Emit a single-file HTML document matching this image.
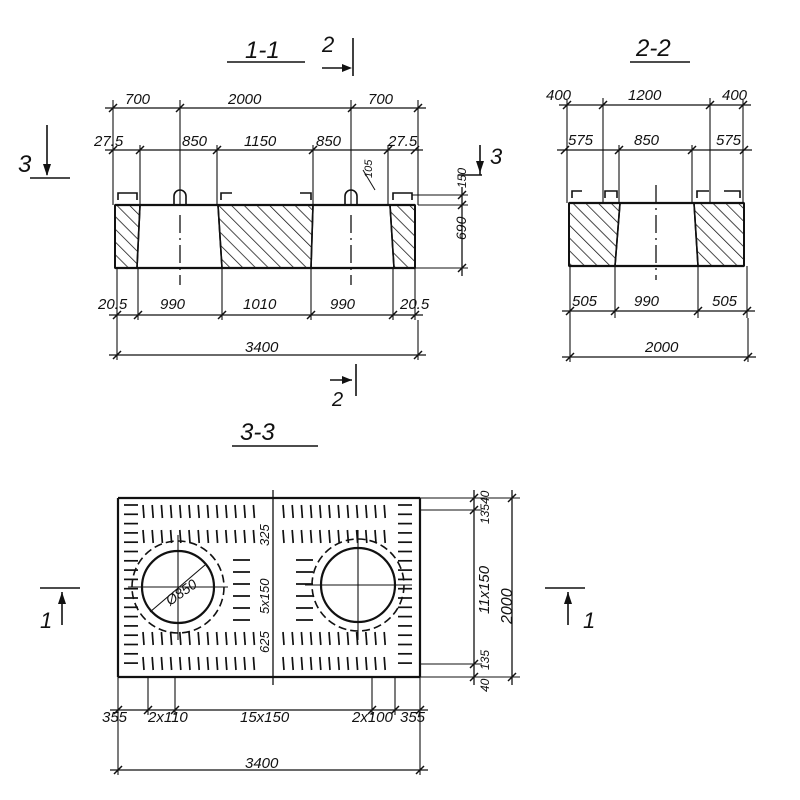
<!DOCTYPE html>
<html><head><meta charset="utf-8"><style>
html,body{margin:0;padding:0;background:#fff;}
svg{display:block;}
text{font-family:"Liberation Sans",sans-serif;font-style:italic;font-size:17px;fill:#111;}
.s{font-size:15px;}
</style></head><body>
<svg id="g" width="800" height="800" viewBox="0 0 800 800" stroke="#111" stroke-width="1.6" fill="none">
<defs>
<pattern id="h" width="9" height="9" patternUnits="userSpaceOnUse" patternTransform="rotate(-45)">
<line x1="0" y1="0" x2="0" y2="9" stroke="#111" stroke-width="1.5"/>
</pattern>
</defs>
<g stroke="none">
<text x="245" y="58" style="font-size:24px">1-1</text>
<text x="322" y="52" style="font-size:22px">2</text>
<text x="332" y="406" style="font-size:20px">2</text>
<text x="18" y="172" style="font-size:24px">3</text>
<text x="490" y="164" style="font-size:22px">3</text>
<text x="636" y="56" style="font-size:24px">2-2</text>
<text x="240" y="440" style="font-size:24px">3-3</text>
<text x="40" y="628" style="font-size:22px">1</text>
<text x="583" y="628" style="font-size:22px">1</text>
<text x="125" y="104" class="s">700</text>
<text x="228" y="104" class="s">2000</text>
<text x="368" y="104" class="s">700</text>
<text x="94" y="146" class="s">27.5</text>
<text x="182" y="146" class="s">850</text>
<text x="244" y="146" class="s">1150</text>
<text x="316" y="146" class="s">850</text>
<text x="388" y="146" class="s">27.5</text>
<text x="98" y="309" class="s">20.5</text>
<text x="160" y="309" class="s">990</text>
<text x="243" y="309" class="s">1010</text>
<text x="330" y="309" class="s">990</text>
<text x="400" y="309" class="s">20.5</text>
<text x="245" y="352" class="s">3400</text>
<text x="546" y="100" class="s">400</text>
<text x="628" y="100" class="s">1200</text>
<text x="722" y="100" class="s">400</text>
<text x="568" y="145" class="s">575</text>
<text x="634" y="145" class="s">850</text>
<text x="716" y="145" class="s">575</text>
<text x="572" y="306" class="s">505</text>
<text x="634" y="306" class="s">990</text>
<text x="712" y="306" class="s">505</text>
<text x="645" y="352" class="s">2000</text>
<text x="102" y="722" class="s">355</text>
<text x="148" y="722" class="s">2x110</text>
<text x="240" y="722" class="s">15x150</text>
<text x="352" y="722" class="s">2x100</text>
<text x="400" y="722" class="s">355</text>
<text x="245" y="768" class="s">3400</text>
<text transform="translate(466,240) rotate(-90)" style="font-size:14px">690</text>
<text transform="translate(466,188) rotate(-90)" style="font-size:12px">150</text>
<text transform="translate(372,178) rotate(-90)" style="font-size:11px">105</text>
<text transform="translate(512,624) rotate(-90)" style="font-size:16px">2000</text>
<text transform="translate(489,614) rotate(-90)" style="font-size:15px">11x150</text>
<text transform="translate(489,524) rotate(-90)" style="font-size:12px">135</text>
<text transform="translate(489,504) rotate(-90)" style="font-size:12px">40</text>
<text transform="translate(489,670) rotate(-90)" style="font-size:12px">135</text>
<text transform="translate(489,692) rotate(-90)" style="font-size:12px">40</text>
<text transform="translate(269,546) rotate(-90)" style="font-size:13px">325</text>
<text transform="translate(269,614) rotate(-90)" style="font-size:13px">5x150</text>
<text transform="translate(269,653) rotate(-90)" style="font-size:13px">625</text>
<text transform="translate(170,606) rotate(-35)" style="font-size:14px">Ø850</text>
</g>
<g id="d"></g>
</svg>
<script>
var d=document.getElementById('d'),o='';
function L(a,b,c,e,w){o+='<line x1="'+a+'" y1="'+b+'" x2="'+c+'" y2="'+e+'"'+(w?' stroke-width="'+w+'"':'')+'/>';}
function T(x,y){L(x-4,y+4,x+4,y-4,1.5);}
function P(p){o+='<polygon points="'+p+'" fill="#111" stroke="none"/>';}
function dimH(y,xs){L(xs[0]-8,y,xs[xs.length-1]+8,y,1.3);xs.forEach(function(x){T(x,y);});}
function dimV(x,ys){L(x,ys[0]-8,x,ys[ys.length-1]+8,1.3);ys.forEach(function(y){T(x,y);});}
// Section 1-1
L(227,62,305,62);L(322,68,348,68);L(353,38,353,76);P('352,68 342,64 342,72');
L(330,380,352,380);L(356,364,356,396);P('352,380 342,376 342,384');
L(47,125,47,175);L(30,178,70,178);P('47,176 43,164 51,164');
L(480,145,480,175);L(458,175,482,175);P('480,173 476,161 484,161');
o+='<polygon points="115,205 140,205 137,268 115,268" fill="url(#h)"/>';
o+='<polygon points="218,205 313,205 311,268 222,268" fill="url(#h)"/>';
o+='<polygon points="390,205 415,205 415,268 394,268" fill="url(#h)"/>';
L(115,205,415,205,2.2);L(115,268,415,268,2.2);L(115,205,115,268,2);L(415,205,415,268,2);
L(140,205,137,268);L(218,205,222,268);L(313,205,311,268);L(390,205,394,268);
o+='<path d="M174,205 V196 a6,6 0 0 1 12,0 V205"/><path d="M345,205 V196 a6,6 0 0 1 12,0 V205"/>';
o+='<path d="M118,200 V193 H137 V200"/><path d="M221,200 V193 H232"/><path d="M300,193 H311 V200"/><path d="M393,200 V193 H412 V200"/>';
L(180,100,180,205,1.1);L(351,100,351,205,1.1);
o+='<line x1="180" y1="215" x2="180" y2="285" stroke-width="1.3" stroke-dasharray="18,5,2,5"/><line x1="351" y1="215" x2="351" y2="285" stroke-width="1.3" stroke-dasharray="18,5,2,5"/>';
dimH(108,[113,180,352,418]);L(113,100,113,205,1.1);L(418,100,418,205,1.1);
dimH(150,[113,140,217,313,388,415]);L(140,145,140,205,1.1);L(217,145,217,205,1.1);L(313,145,313,205,1.1);L(388,145,388,205,1.1);
dimV(462,[195,205,268]);L(415,268,468,268,1.1);L(418,205,468,205,1.1);L(412,195,468,195,1.1);
dimH(315,[117,138,222,311,393,415]);[117,138,222,311,393,415].forEach(function(x){L(x,268,x,320,1.1);});
dimH(355,[117,418]);L(117,320,117,360,1.1);L(418,320,418,360,1.1);
L(363,170,375,190,1);
// Section 2-2
L(630,62,690,62);
o+='<polygon points="569,203 620,203 615,266 569,266" fill="url(#h)"/>';
o+='<polygon points="694,203 744,203 744,266 698,266" fill="url(#h)"/>';
L(569,203,744,203,2.2);L(569,266,744,266,2.2);L(569,203,569,266,2);L(744,203,744,266,2);
L(620,203,615,266);L(694,203,698,266);
o+='<path d="M572,198 V191 H582"/><path d="M605,198 V191 H617 V198"/><path d="M697,198 V191 H709"/><path d="M724,191 H740 V198"/>';
L(603,98,603,203,1.1);L(710,98,710,203,1.1);
o+='<line x1="656" y1="185" x2="656" y2="280" stroke-width="1.3" stroke-dasharray="18,5,2,5"/>';
dimH(105,[567,603,710,743]);L(567,100,567,203,1.1);L(743,100,743,203,1.1);
dimH(150,[565,619,692,744]);L(619,145,619,203,1.1);L(692,145,692,203,1.1);
dimH(311,[570,615,698,747]);[570,615,698,747].forEach(function(x){L(x,266,x,318,1.1);});
dimH(357,[570,748]);L(570,318,570,362,1.1);L(748,318,748,362,1.1);
// Section 3-3
L(232,446,318,446);
L(40,588,80,588);L(62,592,62,625);P('62,592 58,604 66,604');
L(545,588,585,588);L(568,592,568,625);P('568,592 564,604 572,604');
L(118,498,420,498,2.2);L(118,677,420,677,2.2);L(118,498,118,677,2.2);L(420,498,420,677,2.2);
L(273,490,273,685,1.3);
function vrow(y,x0,x1){for(var x=x0;x<=x1;x+=9.2)L(x,y,x+1,y+13,1.7);}
[505,530,632,657].forEach(function(y){vrow(y,143,262);vrow(y,283,392);});
for(var y=505;y<=672;y+=9.3){L(124,y,138,y,1.7);L(398,y,412,y,1.7);}
[560,572,584,596,608,620].forEach(function(y){L(233,y,250,y,1.7);L(296,y,313,y,1.7);});
o+='<circle cx="178" cy="587" r="36" stroke-width="2.2"/><circle cx="358" cy="585" r="37" stroke-width="2.2"/>';
o+='<circle cx="178" cy="587" r="46" stroke-width="1.6" stroke-dasharray="8,4"/><circle cx="358" cy="585" r="46" stroke-width="1.6" stroke-dasharray="8,4"/>';
L(128,587,228,587,1.1);L(178,535,178,640,1.1);L(305,585,412,585,1.1);L(358,530,358,640,1.1);
L(150,612,205,565,1.1);
[498,510,664,677].forEach(function(y){L(420,y,482,y,1.1);});
dimV(474,[498,510,664,677]);
L(420,498,520,498,1.1);L(420,677,520,677,1.1);dimV(512,[498,677]);
[118,148,175,372,395,420].forEach(function(x){L(x,677,x,715,1.1);});
dimH(710,[118,148,175,372,395,420]);
dimH(770,[118,420]);L(118,715,118,775,1.1);L(420,715,420,775,1.1);
d.innerHTML=o;
</script>
</body></html>
